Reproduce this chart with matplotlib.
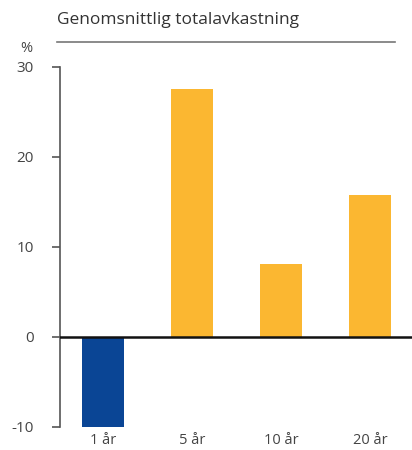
import numpy as np
import matplotlib.pyplot as plt
from matplotlib.lines import Line2D

plt.rcParams['font.family'] = ['Open Sans', 'DejaVu Sans']

# data
categories = ['1 år', '5 år', '10 år', '20 år']
values = [-10.0, 27.6, 8.1, 15.8]
colors = ['#0a4595', '#fbb731', '#fbb731', '#fbb731']
yticks = [-10, 0, 10, 20, 30]

fig = plt.figure(figsize=(4.12, 4.5), dpi=100)
ax = fig.add_axes([60 / 412, 1 - 427 / 450, 1 - 60 / 412, 360 / 450])

x = np.arange(len(categories))
ax.bar(x, values, width=0.47, color=colors, zorder=2)
ax.axhline(0, color='#111111', lw=1.8, zorder=3)

ax.set_xlim(-0.48, 3.47)
ax.set_ylim(-10, 30)
ax.set_yticks(yticks)
ax.set_yticklabels([str(t) for t in yticks])
ax.set_xticks(x)
ax.set_xticklabels(categories)

for s in ['top', 'right', 'bottom']:
    ax.spines[s].set_visible(False)
ax.spines['left'].set_color('#555555')
ax.spines['left'].set_linewidth(1.2)
ax.tick_params(axis='y', direction='out', length=6, width=1.2, color='#555555',
               labelsize=11, labelcolor='#444444', pad=13)
ax.tick_params(axis='x', length=0, labelsize=10.5, labelcolor='#444444', pad=4)

# title and rule
fig.text(57 / 412, 1 - 20 / 450, 'Genomsnittlig totalavkastning', fontsize=12.5,
         color='#333333', va='center', ha='left')
fig.add_artist(Line2D([57 / 412, 395 / 412], [1 - 42 / 450, 1 - 42 / 450],
                      color='#777777', lw=1.2))
fig.text(26 / 412, 1 - 49 / 450, '%', fontsize=10.5, color='#444444',
         va='center', ha='center')

fig.savefig('out.png', dpi=100)
